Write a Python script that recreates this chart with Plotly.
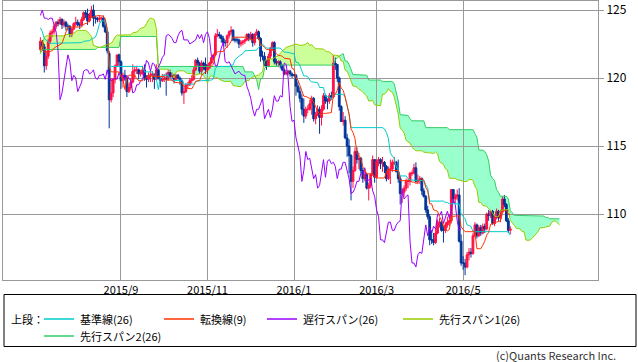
import numpy as np
import pandas as pd
import plotly.graph_objects as go

# ---------------- data ----------------
start_date = "2015-07-06"

opens = [
    122.1,122.6,122.3,120.9,121.6,122.7,123.3,123.4,123.8,124.1,
    124.0,124.3,123.9,124.1,123.8,123.8,123.2,123.6,124.0,124.1,
    123.9,123.9,124.3,124.8,124.7,124.2,124.6,125.0,124.4,124.4,
    124.3,124.4,124.4,123.8,123.4,121.8,118.4,118.9,119.9,120.9,
    121.7,121.2,119.8,120.2,120.0,119.0,119.3,119.7,120.5,120.6,
    120.6,120.3,120.4,120.6,120.0,119.9,120.2,120.2,120.3,119.9,
    120.6,120.0,119.8,119.9,120.0,119.9,120.4,120.1,120.2,119.9,
    120.2,120.0,119.8,118.9,119.0,119.5,119.5,119.8,119.9,120.6,
    121.3,121.1,120.5,121.1,121.0,120.6,120.8,121.1,121.5,121.7,
    123.1,123.2,123.1,122.9,122.6,122.6,123.1,123.4,123.5,122.8,
    122.8,122.8,122.5,122.6,122.7,122.8,123.2,122.9,123.2,122.6,
    123.2,123.4,122.9,121.6,121.6,120.9,120.9,121.6,122.2,122.6,
    121.2,121.1,121.2,120.9,120.6,120.3,120.4,120.5,120.3,120.2,
    120.2,119.4,119.0,118.5,117.7,117.2,117.7,117.7,118.1,118.5,
    117.0,117.3,117.7,117.1,117.7,118.7,118.3,118.3,118.7,118.6,
    121.1,121.0,120.0,117.9,116.8,116.9,115.6,115.0,114.3,112.4,
    113.2,114.6,114.0,114.1,113.2,112.6,112.9,111.9,112.1,112.9,
    114.0,112.7,113.9,114.0,113.7,113.8,113.5,112.6,113.3,113.3,
    113.8,113.8,113.1,112.6,111.5,111.6,111.9,112.4,112.4,113.0,
    113.0,113.4,112.4,112.5,112.6,111.7,111.3,110.3,109.8,108.1,
    108.1,107.9,108.6,109.4,109.4,108.8,108.8,109.2,109.4,109.5,
    111.8,111.1,111.3,111.4,108.0,106.4,106.4,106.1,107.0,107.2,
    107.1,108.4,109.2,108.4,109.0,108.6,109.1,108.9,110.0,109.9,
    110.2,109.3,109.8,110.2,109.7,110.2,111.1,110.7,109.5,108.8,
]
highs = [
    123.0,122.8,122.5,122.0,122.9,123.5,123.6,124.0,124.2,124.3,
    124.5,124.4,124.3,124.2,124.0,123.9,123.7,124.1,124.5,124.3,
    124.1,124.5,124.9,125.0,125.1,124.8,125.3,125.4,124.6,124.5,
    124.6,124.5,124.6,124.0,123.5,122.0,120.0,120.0,121.0,121.7,
    121.8,121.3,120.4,120.6,120.1,119.6,120.0,121.0,120.8,120.9,
    120.7,120.6,120.9,121.0,120.2,120.4,120.5,120.5,120.3,121.0,
    120.7,120.1,120.3,120.3,120.4,120.6,120.6,120.4,120.3,120.3,
    120.3,120.1,119.9,119.3,119.6,119.7,120.0,120.2,120.8,121.4,
    121.5,121.2,121.3,121.2,121.5,121.0,121.2,121.6,121.8,123.3,
    123.6,123.4,123.2,123.1,122.8,123.2,123.5,123.8,123.6,123.0,
    123.0,122.9,122.8,122.8,122.9,123.3,123.3,123.4,123.3,123.3,
    123.6,123.5,123.0,122.0,121.9,121.3,121.8,122.3,122.7,122.7,
    121.4,121.3,121.3,121.0,120.7,120.6,120.6,120.6,120.4,120.3,
    120.3,119.7,119.3,118.8,118.5,117.9,118.0,118.4,118.7,118.6,
    117.5,118.0,117.9,118.0,118.9,118.8,118.5,118.9,119.0,121.7,
    121.5,121.0,120.1,118.0,117.5,117.2,115.9,115.5,114.4,113.5,
    114.9,114.9,114.5,114.2,113.4,113.3,113.0,112.3,113.0,114.3,
    114.0,114.0,114.2,114.1,114.2,113.9,113.6,113.5,114.0,114.0,
    114.2,113.9,114.0,112.8,111.9,112.1,112.6,112.6,113.1,113.2,
    113.7,113.8,112.9,112.8,112.7,111.9,111.4,110.6,110.0,108.8,
    108.6,108.9,109.6,109.7,109.5,109.1,109.4,109.8,110.0,111.8,
    111.8,111.5,111.8,111.9,108.5,106.9,106.7,107.2,107.5,107.5,
    108.6,109.4,109.3,109.2,109.2,109.3,109.3,110.1,110.3,110.3,
    110.3,109.9,110.4,110.3,110.3,111.3,111.4,110.8,109.7,109.1,
]
lows = [
    121.9,122.0,120.4,120.6,121.4,122.5,123.0,123.2,123.6,123.8,
    123.9,123.6,123.7,123.5,123.5,123.0,123.0,123.5,123.8,123.8,
    123.6,123.8,124.2,124.4,123.9,124.1,124.4,123.8,124.0,124.1,
    124.1,124.2,123.7,123.3,121.8,116.3,118.2,118.6,119.6,120.8,
    120.9,119.2,119.3,119.8,118.6,118.9,119.1,119.6,119.9,120.3,
    119.9,120.1,120.2,119.8,119.3,119.7,119.7,119.7,119.2,119.9,
    119.9,119.3,119.7,119.7,118.7,119.8,120.0,119.9,119.6,119.8,
    119.9,119.5,118.7,118.1,118.9,119.2,119.4,119.6,119.8,120.5,
    120.9,120.3,120.2,120.6,120.3,120.3,120.7,121.0,121.3,121.6,
    123.0,122.9,122.6,122.4,122.3,122.2,122.9,123.2,122.7,122.6,
    122.6,122.2,122.3,122.4,122.5,122.7,122.7,122.8,122.3,122.4,
    123.1,122.8,121.2,121.3,120.9,120.6,120.8,121.4,122.0,121.0,
    120.9,120.8,120.7,120.5,120.2,120.2,120.2,120.1,120.0,120.1,
    118.7,118.9,118.2,117.3,116.7,117.0,117.4,117.6,117.3,116.8,
    116.6,117.2,115.9,116.5,117.6,118.1,117.7,118.1,118.4,118.5,
    120.6,119.7,117.6,116.8,116.5,115.5,114.2,113.0,111.0,111.9,
    113.1,113.7,113.3,113.0,112.3,112.4,111.8,111.0,111.9,112.8,
    112.3,112.6,113.5,113.3,113.1,113.0,112.4,112.5,112.2,113.1,
    113.6,113.1,112.3,110.7,110.8,111.3,111.7,111.9,112.1,112.8,
    112.9,112.3,112.2,112.2,111.4,111.2,110.1,109.6,107.7,107.8,
    107.7,107.8,108.5,109.0,108.7,107.9,108.6,109.0,109.1,109.3,
    110.8,110.8,111.0,107.9,106.2,105.9,105.5,106.0,106.6,106.8,
    107.0,108.3,108.2,108.3,108.4,108.5,108.6,108.8,109.5,109.7,
    109.2,109.1,109.6,109.5,109.4,110.1,110.5,109.4,108.6,108.5,
]
closes = [
    122.7,122.3,120.9,121.6,122.7,123.3,123.4,123.8,124.1,124.0,
    124.3,123.9,124.1,123.8,123.8,123.2,123.6,124.0,124.1,123.9,
    123.9,124.3,124.8,124.7,124.2,124.6,125.0,124.4,124.4,124.3,
    124.4,124.4,123.8,123.4,122.0,118.4,118.9,119.9,120.9,121.7,
    121.2,119.8,120.2,120.0,119.0,119.3,119.7,120.5,120.6,120.6,
    120.3,120.4,120.6,120.0,119.9,120.2,120.2,120.3,119.9,120.6,
    120.0,119.8,119.9,120.0,119.9,120.4,120.1,120.2,119.9,120.2,
    120.0,119.8,118.9,119.0,119.5,119.5,119.8,119.9,120.6,121.3,
    121.1,120.5,121.1,121.0,120.6,120.8,121.1,121.5,121.7,123.1,
    123.2,123.1,122.9,122.6,122.6,123.1,123.4,123.5,122.8,122.8,
    122.8,122.5,122.6,122.7,122.8,123.2,122.9,123.2,122.6,123.2,
    123.4,122.9,121.6,121.6,120.9,120.9,121.6,122.2,122.6,121.2,
    121.1,121.2,120.9,120.6,120.3,120.4,120.5,120.3,120.2,120.2,
    119.4,119.0,118.5,117.7,117.2,117.7,117.7,118.1,118.5,117.0,
    117.3,117.7,117.1,117.7,118.7,118.3,118.3,118.7,118.6,121.1,
    121.0,120.0,117.9,116.8,116.9,115.6,115.0,114.3,112.4,113.2,
    114.6,114.0,114.1,113.2,112.6,112.9,111.9,112.1,112.9,114.0,
    112.7,113.9,114.0,113.7,113.8,113.5,112.6,113.3,113.3,113.8,
    113.8,113.1,112.6,111.5,111.6,111.9,112.4,112.4,113.0,113.0,
    113.4,112.4,112.5,112.6,111.7,111.3,110.3,109.8,108.1,108.1,
    107.9,108.6,109.4,109.4,108.8,108.8,109.2,109.4,109.5,111.8,
    111.1,111.3,111.4,108.0,106.4,106.4,106.1,107.0,107.2,107.1,
    108.4,109.2,108.4,109.0,108.6,109.1,108.9,110.0,109.9,110.2,
    109.3,109.8,110.2,109.7,110.2,111.1,110.7,109.5,108.8,108.9,
]

# indicator values visible at the start of the chart (their history lies before it)
tenkan_head = [122.7, 122.7, 121.9, 121.9, 121.9, 121.95, 122.0, 122.2]
kijun_head = [123.7, 123.4, 122.9, 122.8, 122.7, 122.55, 122.55, 122.55, 122.55,
              122.55, 122.55, 122.55, 122.55, 122.55, 122.55, 122.55, 122.6,
              122.6, 122.6, 122.6, 122.6, 122.6, 122.7, 122.7, 122.7]
span1_head = [121.8, 122.5, 123.0, 123.1, 123.1, 123.1, 123.1, 123.1, 123.1,
              123.1, 123.1, 123.1, 123.1, 123.2, 123.2, 123.2, 123.2, 123.3,
              123.4, 123.5, 123.5, 123.5, 123.5, 123.5, 123.4]
span2_head = [121.8,
              122.1, 122.1, 122.1, 122.1, 122.1, 122.1, 122.1, 122.1, 122.1, 122.1,
              122.1, 122.1, 122.1, 122.1, 122.1, 122.1, 122.1, 122.1, 122.1, 122.1,
              122.1, 122.1, 122.1, 122.1, 122.1, 122.1, 122.1, 122.1,
              122.25, 122.25, 122.25, 122.25, 122.25, 122.25, 122.25, 122.25,
              122.25, 122.25, 122.25, 122.25,
              123.05, 123.05, 123.05, 123.05, 123.05, 123.05, 123.05, 123.05,
              123.05, 123.05, 123.05, 123.05, 123.05, 123.05, 123.05, 123.05,
              123.05, 123.05, 123.05,
              120.85, 120.85, 120.85, 120.85, 120.85, 120.85, 120.85, 120.85,
              120.85, 120.85, 120.85, 120.85, 120.85, 120.85, 120.85, 120.85]

tick_months = ["2015-09", "2015-11", "2016-01", "2016-03", "2016-05"]
tick_labels = ["2015/9", "2015/11", "2016/1", "2016/3", "2016/5"]
y_ticks = [110, 115, 120, 125]

legend_names = ["基準線(26)", "転換線(9)", "遅行スパン(26)", "先行スパン1(26)", "先行スパン2(26)"]

# ---------------- styling ----------------
C_UP, C_DN = "#ff1144", "#003399"
C_KIJUN, C_TENKAN, C_CHIKOU = "#00cccc", "#ff3300", "#9900ff"
C_SPAN1, C_SPAN2 = "#99cc00", "#33cc66"
C_CLOUD1, C_CLOUD2 = "#ccff99", "#99ffcc"
GRID = "#999999"
FONT = "Noto Sans CJK JP"

# ---------------- indicators ----------------
SHIFT = 25
n = len(closes)
dates = pd.bdate_range(start_date, periods=n + SHIFT)
pos = np.arange(n + SHIFT)
H, L, C = np.array(highs), np.array(lows), np.array(closes)


def mid(i, w):
    return (H[i - w + 1:i + 1].max() + L[i - w + 1:i + 1].min()) / 2


tenkan = np.array([tenkan_head[i] if i < len(tenkan_head) else mid(i, 9) for i in range(n)])
kijun = np.array([kijun_head[i] if i < len(kijun_head) else mid(i, 26) for i in range(n)])
span1 = np.array([span1_head[i] if i < len(span1_head)
                  else (tenkan[i - SHIFT] + kijun[i - SHIFT]) / 2 for i in range(n + SHIFT)])
span2 = np.array([span2_head[i] if i < len(span2_head)
                  else mid(i - SHIFT, 52) for i in range(n + SHIFT)])
chikou = C[SHIFT:]

month_keys = dates.strftime("%Y-%m")
tick_vals = [int(np.argmax(month_keys == m)) for m in tick_months]

# ---------------- figure ----------------
fig = go.Figure()

# cloud (drawn as shapes beneath gridlines and candles)
top = np.maximum(span1, span2)


def band(upper, lower):
    fwd = [f"{x},{y:.3f}" for x, y in zip(pos, upper)]
    back = [f"{x},{y:.3f}" for x, y in zip(pos[::-1], lower[::-1])]
    return "M" + " L".join(fwd + back) + " Z"


shapes = [
    dict(type="path", path=band(top, span2), xref="x", yref="y",
         fillcolor=C_CLOUD1, line=dict(width=0), layer="below"),
    dict(type="path", path=band(top, span1), xref="x", yref="y",
         fillcolor=C_CLOUD2, line=dict(width=0), layer="below"),
]

fig.add_trace(go.Candlestick(
    x=pos[:n], open=opens, high=highs, low=lows, close=closes,
    increasing=dict(line=dict(color=C_UP, width=1), fillcolor=C_UP),
    decreasing=dict(line=dict(color=C_DN, width=1), fillcolor=C_DN),
    whiskerwidth=0, hoverinfo="skip"))

line_w = 1
fig.add_trace(go.Scatter(x=pos[:n + SHIFT], y=span2, mode="lines",
                         line=dict(color=C_SPAN2, width=line_w), hoverinfo="skip"))
fig.add_trace(go.Scatter(x=pos[:n + SHIFT], y=span1, mode="lines",
                         line=dict(color=C_SPAN1, width=line_w), hoverinfo="skip"))
fig.add_trace(go.Scatter(x=pos[:len(chikou)], y=chikou, mode="lines",
                         line=dict(color=C_CHIKOU, width=line_w), hoverinfo="skip"))
fig.add_trace(go.Scatter(x=pos[:n], y=kijun, mode="lines",
                         line=dict(color=C_KIJUN, width=line_w), hoverinfo="skip"))
fig.add_trace(go.Scatter(x=pos[:n], y=tenkan, mode="lines",
                         line=dict(color=C_TENKAN, width=line_w), hoverinfo="skip"))

# ---------------- legend (manual, below the plot) ----------------
PL, PR, PT, PB = 3, 598, 1, 280


def px_x(p):
    return (p - PL) / (PR - PL)


def px_y(p):
    return (PB - p) / (PB - PT)


annotations = []
shapes.append(dict(type="rect", xref="paper", yref="paper",
                   x0=px_x(4), x1=px_x(636), y0=px_y(294.5), y1=px_y(346.5),
                   line=dict(color="black", width=1), fillcolor="rgba(0,0,0,0)"))
annotations.append(dict(text="上段：", x=px_x(9), y=px_y(319), xref="paper", yref="paper",
                        xanchor="left", yanchor="middle", showarrow=False,
                        font=dict(family=FONT, size=11, color="black")))
legend_colors = [C_KIJUN, C_TENKAN, C_CHIKOU, C_SPAN1, C_SPAN2]
legend_line_x = [44, 164, 267, 403, 44]
legend_row_y = [319, 319, 319, 319, 336]
for name, col, lx, ly in zip(legend_names, legend_colors, legend_line_x, legend_row_y):
    shapes.append(dict(type="line", xref="paper", yref="paper",
                       x0=px_x(lx), x1=px_x(lx + 30), y0=px_y(ly), y1=px_y(ly),
                       line=dict(color=col, width=1.5)))
    annotations.append(dict(text=name, x=px_x(lx + 34), y=px_y(ly), xref="paper", yref="paper",
                            xanchor="left", yanchor="middle", showarrow=False,
                            font=dict(family=FONT, size=11, color="black")))
annotations.append(dict(text="(c)Quants Research Inc.", x=px_x(618), y=px_y(355),
                        xref="paper", yref="paper", xanchor="right", yanchor="middle",
                        showarrow=False, font=dict(family=FONT, size=11, color="#333333")))

# ---------------- layout ----------------
fig.update_layout(
    width=638, height=362,
    margin=dict(l=PL, r=638 - PR, t=PT, b=362 - PB),
    plot_bgcolor="white", paper_bgcolor="white",
    showlegend=False, hovermode=False,
    boxgap=0.1, boxgroupgap=0,
    shapes=shapes, annotations=annotations,
    xaxis=dict(range=[-19.0, 283.6], tickmode="array", tickvals=tick_vals, ticktext=tick_labels,
               showgrid=True, gridcolor=GRID, gridwidth=1, zeroline=False,
               showline=True, linecolor=GRID, linewidth=1, mirror=True, ticks="",
               tickfont=dict(family=FONT, size=11, color="black"),
               rangeslider=dict(visible=False), fixedrange=True),
    yaxis=dict(range=[105.147, 125.662], side="right", tickmode="array", tickvals=y_ticks,
               showgrid=True, gridcolor=GRID, gridwidth=1, zeroline=False,
               showline=True, linecolor=GRID, linewidth=1, mirror=True,
               ticks="outside", ticklen=5, tickcolor=GRID,
               tickfont=dict(family=FONT, size=12, color="black"), fixedrange=True),
)

fig.write_html("out.html", config={"displayModeBar": False},
               post_script="document.body.style.margin='0';document.body.style.overflow='hidden';")
